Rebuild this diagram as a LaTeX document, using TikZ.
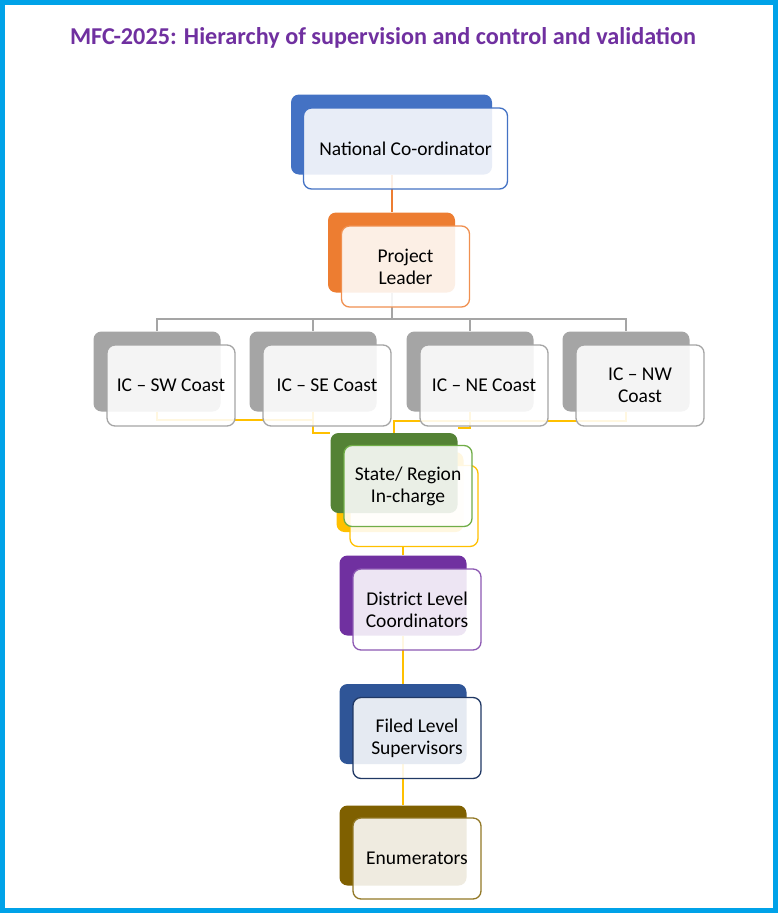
\documentclass[tikz,border=0pt]{standalone}
\usepackage{fontspec}
\setmainfont{Carlito}
\usetikzlibrary{backgrounds}

\definecolor{framecol}{HTML}{00A2E8}
\definecolor{titlecol}{HTML}{7030A0}
\definecolor{ncblue}{HTML}{4472C4}
\definecolor{plorange}{HTML}{ED7D31}
\definecolor{icgray}{HTML}{A5A5A5}
\definecolor{srgreen}{HTML}{548235}
\definecolor{srlight}{HTML}{70AD47}
\definecolor{gold}{HTML}{FFC000}
\definecolor{dlpurple}{HTML}{7030A0}
\definecolor{flblue}{HTML}{2F5597}
\definecolor{fldark}{HTML}{203864}
\definecolor{enolive}{HTML}{7F6000}

\begin{document}
\begin{tikzpicture}[x=1pt, y=-1pt, thick,
    backbox/.style = {rounded corners=8pt, minimum width=127pt, minimum height=80pt},
    frontbox/.style = {draw, rounded corners=8pt, fill=white, fill opacity=0.88, text opacity=1,
        minimum width=128pt, minimum height=81pt, align=center, line width=1.3pt,
        font=\fontsize{19.5}{22}\selectfont},
    conn/.style = {line width=2pt}]
    \useasboundingbox (0,0) rectangle (778,913);

    \node[font=\fontsize{24.2}{28}\selectfont\bfseries, text=titlecol] (title) at (383,38)
        {MFC-2025: Hierarchy of supervision and control and validation};

    % top of the chart
    \node[backbox, fill=ncblue, minimum width=201pt] (ncb) at (391.5,134.5) {};
    \node[frontbox, draw=ncblue, minimum width=204pt] (ncf) at ([shift={(14,14)}]ncb.center) {National Co-ordinator};
    \node[backbox, fill=plorange] (plb) at (391.5,252.5) {};
    \node[frontbox, draw=plorange!85] (plf) at ([shift={(14,14)}]plb.center) {Project\\Leader};

    % coast in-charges
    \foreach \n/\x/\t in {sw/157/{IC – SW Coast}, se/313/{IC – SE Coast}, ne/470/{IC – NE Coast}, nw/626/{IC – NW\\Coast}} {
        \node[backbox, fill=icgray] (b\n) at (\x,371.5) {};
        \node[frontbox, draw=icgray] (f\n) at ([shift={(14,14)}]b\n.center) {\t};
    }

    % state / region in-charge
    \node[backbox, fill=gold] (yb) at (400,492) {};
    \node[frontbox, draw=gold] (yf) at ([shift={(14,14)}]yb.center) {};
    \node[backbox, fill=srgreen] (gb) at (394,473) {};
    \node[frontbox, draw=srlight] (gf) at ([shift={(14,13)}]gb.center) {State/ Region\\In-charge};

    % lower levels
    \node[backbox, fill=dlpurple] (db) at (403,595.5) {};
    \node[frontbox, draw=dlpurple!80] (df) at ([shift={(14,14)}]db.center) {District Level\\Coordinators};
    \node[backbox, fill=flblue] (fb) at (403,724) {};
    \node[frontbox, draw=fldark] (ff) at ([shift={(14,14)}]fb.center) {Filed Level\\Supervisors};
    \node[backbox, fill=enolive] (eb) at (403,845.5) {};
    \node[frontbox, draw=enolive!85] (ef) at ([shift={(14,13)}]eb.center) {Enumerators};

    \begin{scope}[on background layer]
        \fill[white] (0,0) rectangle (778,913);
        \draw[conn, plorange] (ncb) -- (plb);
        \foreach \n in {sw,se,ne,nw}
            \draw[conn, icgray] (plb.south) -- ++(0,26) -| (b\n.north);
        \draw[conn, gold] (bsw.south) -- ++(0,8) -| (bse.south);
        \draw[conn, gold] (bse.south) |- (gb.north west);
        \draw[conn, gold] (bne.south) |- ([yshift=5pt]gb.north east);
        \draw[conn, gold] (bnw.south) -- ++(0,9) -| (gb.north);
        \draw[conn, gold] (db.north) -- (db.north |- yf.south);
        \draw[conn, gold] (db) -- (fb);
        \draw[conn, gold] (fb) -- (eb);
    \end{scope}

    \draw[line width=5pt, framecol] (2.5,2.5) rectangle (775.5,910.5);
\end{tikzpicture}
\end{document}
